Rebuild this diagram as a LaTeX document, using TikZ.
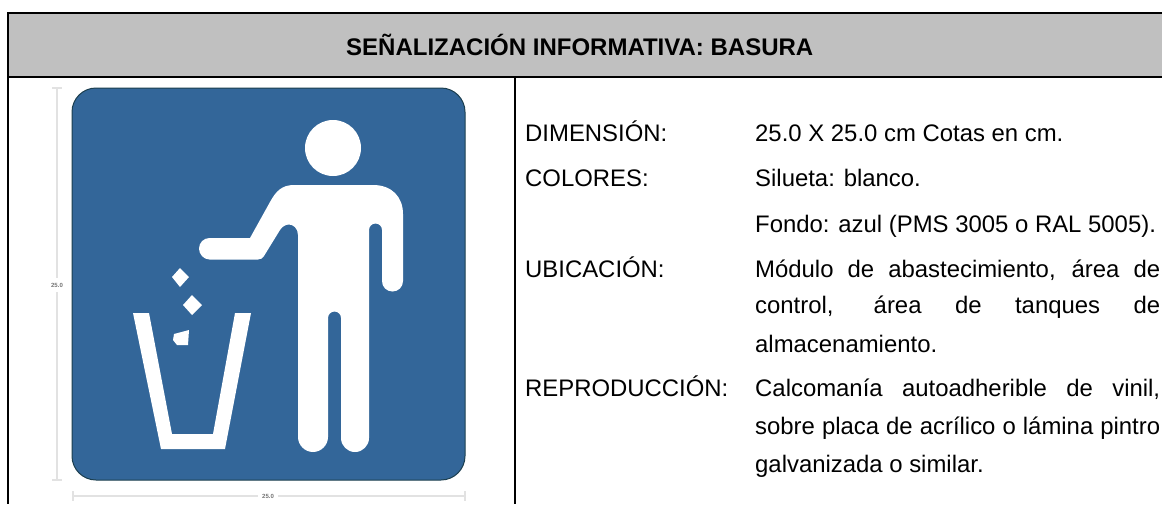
\documentclass[tikz,border=0pt]{standalone}
\usepackage{fontspec}
\setmainfont{Liberation Sans}
\definecolor{signblue}{HTML}{336699}
\definecolor{signedge}{HTML}{1C3F4F}
\definecolor{headgray}{HTML}{C0C0C0}
\definecolor{dimgray}{HTML}{E2E2E2}
\tikzset{
  x=1pt,y=-1pt,
  frameline/.style={line width=2pt,black},
  dimline/.style={line width=1.6pt,dimgray},
  dimtext/.style={font=\fontsize{6}{6}\selectfont\bfseries,text=black!55,inner sep=0pt},
  lefttext/.style={font=\fontsize{23.9}{28}\selectfont,anchor=base west,inner sep=0pt},
  silh/.style={fill=white,draw=none}
}
\begin{document}
\begin{tikzpicture}
\useasboundingbox (0,0) rectangle (1162,504);
\fill[white] (0,0) rectangle (1162,504);
% header
\fill[headgray] (8,13) rectangle (1162,77);
\draw[frameline] (1162,13) -- (8,13) -- (8,504);
\draw[frameline] (8,77) -- (1162,77);
\draw[frameline] (515,77) -- (515,504);
\node[font=\fontsize{24}{28}\selectfont\bfseries,inner sep=0pt,anchor=base west] (title) at (346,55) {SEÑALIZACIÓN INFORMATIVA: BASURA};
% dimension lines
\draw[dimline] (57,88) -- (57,278) (57,292) -- (57,480);
\draw[dimline] (52,88) -- (62,88) (52,480) -- (62,480);
\draw[dimline] (73,496) -- (258,496) (278,496) -- (465,496);
\draw[dimline] (73,491) -- (73,501) (465,491) -- (465,501);
\node[dimtext] (dimv) at (57,285) {25.0};
\node[dimtext] (dimh) at (268,496) {25.0};
% sign
\draw[fill=signblue,draw=signedge,line width=1pt,rounded corners=24pt] (72,88) rectangle (465,480);
% person
\fill[silh] (333,148) circle (28);
\fill[silh]
  (199,248.5) .. controls (199,242.7) and (203.7,238) .. (209.5,238)
  -- (250,238) -- (270,202)
  .. controls (276,191) and (282,185) .. (294,185)
  -- (373,185) .. controls (392,185) and (403,197) .. (403,214)
  -- (403,281) .. controls (403,287) and (398.3,291.5) .. (392.5,291.5)
  .. controls (386.7,291.5) and (382,287) .. (382,281)
  -- (382,230) .. controls (382,226.4) and (379.1,223.5) .. (375.5,223.5)
  .. controls (371.9,223.5) and (369,226.4) .. (369,230)
  -- (369,438) .. controls (369,445.7) and (362.7,452) .. (355,452)
  .. controls (347.3,452) and (341,445.7) .. (341,438)
  -- (341,318) .. controls (341,314.4) and (338.1,311.5) .. (334.5,311.5)
  .. controls (330.9,311.5) and (328,314.4) .. (328,318)
  -- (328,437) .. controls (328,445) and (321.3,452) .. (313,452)
  .. controls (304.7,452) and (298,445) .. (298,437)
  -- (298,235) .. controls (298,228) and (293,224.5) .. (289,224.5)
  .. controls (285,224.5) and (282,227) .. (280,230)
  -- (264,256) .. controls (263,258) and (261,259.5) .. (258,259.5)
  -- (209.5,259.5) .. controls (203.7,259.5) and (199,254.3) .. (199,248.5) -- cycle;
% litter
\fill[silh] (180,268) -- (189,277) -- (180,287) -- (172,277) -- cycle;
\fill[silh] (192,295) -- (202,305) -- (192,315) -- (183,305) -- cycle;
\fill[silh] (174,334) -- (189,330) -- (188,345) -- (177,345) -- (173,340) -- cycle;
% bin
\fill[silh] (133,313) -- (149,313) -- (172,434) -- (213,434) -- (235,313) -- (251,313) -- (225,449) -- (161,449) -- cycle;
% texts
\node[lefttext] (l1) at (525,141) {DIMENSIÓN:};
\node[lefttext] (l2) at (525,186) {COLORES:};
\node[lefttext] (l3) at (525,277) {UBICACIÓN:};
\node[lefttext] (l4) at (525,396) {REPRODUCCIÓN:};
\node[lefttext] (v1) at (755,141) {25.0 X 25.0 cm Cotas en cm.};
\node[lefttext] (v2) at (755,186) {Silueta: blanco.};
\node[lefttext] (v3) at (755,232) {Fondo: azul (PMS 3005 o RAL 5005).};
\node[lefttext] (v4) at (755,277) {\makebox[405pt][s]{Módulo de abastecimiento, área de}};
\node[lefttext] (v5) at (755,313) {\makebox[405pt][s]{control, área de tanques de}};
\node[lefttext] (v6) at (755,352) {almacenamiento.};
\node[lefttext] (v7) at (755,396) {\makebox[405pt][s]{Calcomanía autoadherible de vinil,}};
\node[lefttext] (v8) at (755,434) {\makebox[405pt][s]{sobre placa de acrílico o lámina pintro}};
\node[lefttext] (v9) at (755,472) {galvanizada o similar.};
\end{tikzpicture}
\end{document}
